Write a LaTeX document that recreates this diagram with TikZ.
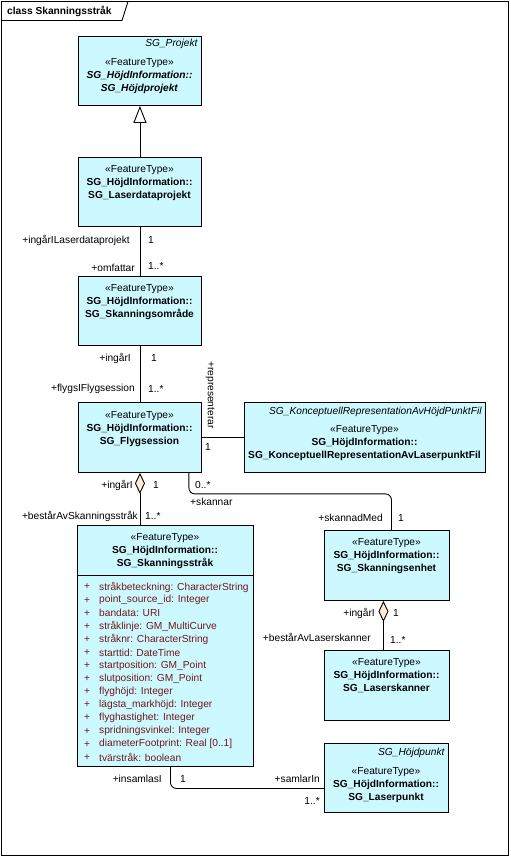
\documentclass[tikz,border=0pt]{standalone}
\usepackage{fontspec}
\setmainfont{Liberation Sans}
\usetikzlibrary{arrows.meta}

\definecolor{clsfill}{RGB}{204,248,255}
\definecolor{aggfill}{RGB}{255,236,214}
\definecolor{attrred}{RGB}{115,25,25}

\tikzset{
  txt/.style={font=\fontsize{10.2}{13}\selectfont, inner sep=0pt},
  cls/.style={draw, fill=clsfill, line width=0.9pt, anchor=north west, inner sep=0pt},
  body/.style={txt, align=center},
  attr/.style={txt, text=attrred, anchor=west},
  assoc/.style={line width=0.9pt},
}

\begin{document}
\begin{tikzpicture}[x=1pt, y=-1pt]
    \useasboundingbox (0,0) rectangle (511,857);
    \draw [line width=0.9pt] (1.5,1.5) rectangle (508.5,855);
    \draw [line width=0.9pt] (1.5,20.5) -- (122,20.5) -- (128,1.5);
    \node (title) at (7,11) [txt, anchor=west] {\textbf{class Skanningsstråk}};

    \node (proj) at (78,36) [cls, minimum width=123pt, minimum height=69pt] {};
    \node (projsup) at (198,44) [txt, anchor=east] {\textit{SG\_Projekt}};
    \node (projtxt) at (139.5,76) [body] {«FeatureType»\\\textbf{\textit{SG\_HöjdInformation::}}\\\textbf{\textit{SG\_Höjdprojekt}}};

    \node (lasd) at (78,157) [cls, minimum width=123pt, minimum height=69pt] {};
    \node (lasdtxt) at (139.5,183) [body] {«FeatureType»\\\textbf{SG\_HöjdInformation::}\\\textbf{SG\_Laserdataprojekt}};

    \node (omr) at (78,276) [cls, minimum width=123pt, minimum height=69pt] {};
    \node (omrtxt) at (139.5,302) [body] {«FeatureType»\\\textbf{SG\_HöjdInformation::}\\\textbf{SG\_Skanningsområde}};

    \node (flyg) at (78,402) [cls, minimum width=123pt, minimum height=70pt] {};
    \node (flygtxt) at (139.5,429) [body] {«FeatureType»\\\textbf{SG\_HöjdInformation::}\\\textbf{SG\_Flygsession}};

    \node (konc) at (244,402) [cls, minimum width=241pt, minimum height=70pt] {};
    \node (koncsup) at (482,412) [txt, anchor=east] {\textit{SG\_KonceptuellRepresentationAvHöjdPunktFil}};
    \node (konctxt) at (364.5,443) [body] {«FeatureType»\\\textbf{SG\_HöjdInformation::}\\\textbf{SG\_KonceptuellRepresentationAvLaserpunktFil}};

    \node (skan) at (77,525) [cls, minimum width=176pt, minimum height=241pt] {};
    \node (skantxt) at (165,551) [body] {«FeatureType»\\\textbf{SG\_HöjdInformation::}\\\textbf{SG\_Skanningsstråk}};
    \draw [line width=0.9pt] ([yshift=-50pt]skan.north west) -- ([yshift=-50pt]skan.north east);
    \foreach \attr [count=\i from 0] in {stråkbeteckning: CharacterString, point\_source\_id: Integer, bandata: URI, stråklinje: GM\_MultiCurve, stråknr: CharacterString, starttid: DateTime, startposition: GM\_Point, slutposition: GM\_Point, flyghöjd: Integer, lägsta\_markhöjd: Integer, flyghastighet: Integer, spridningsvinkel: Integer, {diameterFootprint: Real [0..1]}, tvärstråk: boolean} {
        \node (plus\i) at (84,{587+13.1*\i}) [attr] {+};
        \node (attr\i) at (99,{587+13.1*\i}) [attr] {\attr};
    }

    \node (enhet) at (324,530) [cls, minimum width=125pt, minimum height=70pt] {};
    \node (enhettxt) at (386.5,556) [body] {«FeatureType»\\\textbf{SG\_HöjdInformation::}\\\textbf{SG\_Skanningsenhet}};

    \node (lsk) at (324,650) [cls, minimum width=125pt, minimum height=70pt] {};
    \node (lsktxt) at (386.5,676) [body] {«FeatureType»\\\textbf{SG\_HöjdInformation::}\\\textbf{SG\_Laserskanner}};

    \node (punkt) at (324,743) [cls, minimum width=124pt, minimum height=69pt] {};
    \node (punktsup) at (445,753) [txt, anchor=east] {\textit{SG\_Höjdpunkt}};
    \node (punkttxt) at (386,785) [body] {«FeatureType»\\\textbf{SG\_HöjdInformation::}\\\textbf{SG\_Laserpunkt}};

    \draw [assoc, -{Triangle[length=17pt, width=13pt, fill=white]}] (lasd.north) -- (proj.south);
    \draw [assoc] (lasd.south) -- (omr.north);
    \draw [assoc] (omr.south) -- (flyg.north);
    \draw [assoc] (flyg.east) -- (konc.west);
    \draw [assoc, {Diamond[length=21pt, width=10pt, fill=aggfill]}-] (flyg.south) -- (flyg.south |- skan.north);
    \draw [assoc, rounded corners=6pt] ([xshift=-13pt]flyg.south east) -- ++(0,21) -| ([xshift=4.5pt]enhet.north);
    \draw [assoc, {Diamond[length=21pt, width=10pt, fill=aggfill]}-] ([xshift=-3.5pt]enhet.south) -- ([xshift=-3.5pt]lsk.north);
    \draw [assoc, rounded corners=6pt] ([xshift=5pt]skan.south) |- ([yshift=-10.5pt]punkt.west);

    \node (lasdrole) at (130,240) [txt, anchor=east] {+ingårILaserdataprojekt};
    \node (lasdmult) at (148,240) [txt, anchor=west] {1};
    \node (omrrole) at (135,268) [txt, anchor=east] {+omfattar};
    \node (omrmult) at (148,266) [txt, anchor=west] {1..*};
    \node (omrup) at (131,358) [txt, anchor=east] {+ingårI};
    \node (omrupmult) at (151,358) [txt, anchor=west] {1};
    \node (flygrole) at (135,389) [txt, anchor=east] {+flygsIFlygsession};
    \node (flygmult) at (148,389) [txt, anchor=west] {1..*};
    \node (repr) at (210,395) [txt, rotate=-90] {+representerar};
    \node (reprmult) at (205,447) [txt, anchor=west] {1};
    \node (flygagg) at (133,485) [txt, anchor=east] {+ingårI};
    \node (flyggmult) at (153,485) [txt, anchor=west] {1};
    \node (skanrole) at (138,516) [txt, anchor=east] {+bestårAvSkanningsstråk};
    \node (skanmult) at (145,516) [txt, anchor=west] {1..*};
    \node (skannar) at (190,502) [txt, anchor=west] {+skannar};
    \node (skannarmult) at (195,485) [txt, anchor=west] {0..*};
    \node (skannad) at (383,518) [txt, anchor=east] {+skannadMed};
    \node (skannadmult) at (398,518) [txt, anchor=west] {1};
    \node (enhetagg) at (375,613) [txt, anchor=east] {+ingårI};
    \node (enhetaggmult) at (393,613) [txt, anchor=west] {1};
    \node (lskrole) at (371,637) [txt, anchor=east] {+bestårAvLaserskanner};
    \node (lskmult) at (390,640) [txt, anchor=west] {1..*};
    \node (insaml) at (162,779) [txt, anchor=east] {+insamlasI};
    \node (insamlmult) at (180,779) [txt, anchor=west] {1};
    \node (samlar) at (320,779) [txt, anchor=east] {+samlarIn};
    \node (samlarmult) at (320,801) [txt, anchor=east] {1..*};
\end{tikzpicture}
\end{document}
